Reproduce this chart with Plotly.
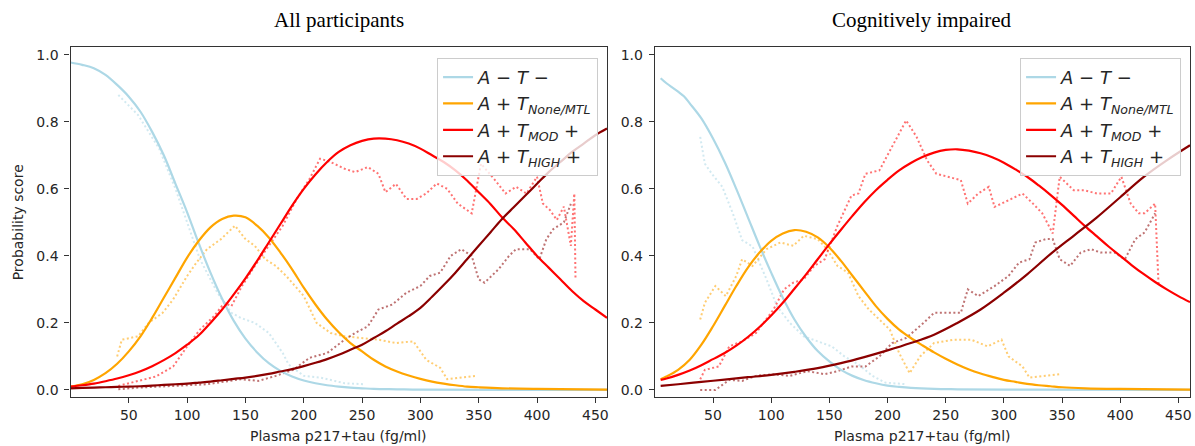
import plotly.graph_objects as go

# ---------------- data: fitted curves (left panel: All participants) ----------------
L_blue_x = [0, 10, 20, 30, 40, 50, 60, 70, 80, 90, 100, 110, 120, 130, 140, 150, 160, 170, 180, 190, 200, 210, 220, 230, 240, 250, 260, 280, 300, 460]
L_blue_y = [0.977, 0.97, 0.96, 0.94, 0.91, 0.875, 0.83, 0.77, 0.70, 0.615, 0.53, 0.437, 0.35, 0.272, 0.206, 0.153, 0.112, 0.08, 0.057, 0.04, 0.028, 0.02, 0.014, 0.01, 0.007, 0.005, 0.003, 0.002, 0.001, 0.0]
L_orange_x = [0, 10, 20, 30, 40, 50, 60, 70, 80, 90, 100, 110, 120, 130, 140, 150, 160, 170, 180, 190, 200, 210, 220, 230, 240, 250, 260, 270, 280, 290, 300, 310, 320, 330, 340, 350, 370, 400, 460]
L_orange_y = [0.01, 0.017, 0.03, 0.05, 0.078, 0.115, 0.16, 0.215, 0.275, 0.335, 0.395, 0.445, 0.485, 0.51, 0.52, 0.515, 0.49, 0.455, 0.41, 0.36, 0.305, 0.255, 0.21, 0.172, 0.14, 0.115, 0.09, 0.07, 0.055, 0.043, 0.033, 0.025, 0.019, 0.014, 0.01, 0.008, 0.005, 0.003, 0.001]
L_red_x = [0, 10, 20, 30, 40, 50, 60, 70, 80, 90, 100, 110, 120, 130, 140, 150, 160, 170, 180, 190, 200, 210, 220, 230, 240, 250, 260, 270, 280, 290, 300, 310, 320, 330, 340, 350, 360, 370, 380, 390, 400, 410, 420, 430, 440, 450, 460]
L_red_y = [0.01, 0.014, 0.019, 0.026, 0.034, 0.044, 0.056, 0.071, 0.089, 0.11, 0.135, 0.163, 0.2, 0.24, 0.285, 0.333, 0.385, 0.44, 0.495, 0.55, 0.6, 0.643, 0.68, 0.71, 0.73, 0.743, 0.75, 0.75, 0.745, 0.735, 0.72, 0.70, 0.68, 0.655, 0.625, 0.59, 0.555, 0.515, 0.48, 0.44, 0.40, 0.365, 0.33, 0.295, 0.265, 0.24, 0.215]
L_dred_x = [0, 10, 20, 30, 40, 50, 60, 70, 80, 90, 100, 110, 120, 130, 140, 150, 160, 170, 180, 190, 200, 210, 220, 230, 240, 250, 260, 270, 280, 290, 300, 310, 320, 330, 340, 350, 360, 370, 380, 390, 400, 410, 420, 430, 440, 450, 460]
L_dred_y = [0.005, 0.006, 0.007, 0.008, 0.009, 0.01, 0.011, 0.013, 0.015, 0.017, 0.019, 0.022, 0.025, 0.029, 0.033, 0.037, 0.042, 0.048, 0.055, 0.062, 0.071, 0.081, 0.092, 0.105, 0.12, 0.135, 0.155, 0.175, 0.198, 0.22, 0.245, 0.278, 0.313, 0.35, 0.39, 0.43, 0.47, 0.51, 0.545, 0.58, 0.615, 0.65, 0.68, 0.71, 0.735, 0.76, 0.78]

# ---------------- data: empirical dots (left panel) ----------------
L_blue_dx = [41, 58, 76, 90, 100, 111, 126, 138, 146, 158, 170, 176, 182, 187, 200, 214, 235, 252]
L_blue_dy = [0.88, 0.82, 0.72, 0.6, 0.5, 0.39, 0.29, 0.23, 0.215, 0.2, 0.17, 0.14, 0.11, 0.076, 0.042, 0.037, 0.02, 0.017]
L_orange_dx = [40, 44, 58, 67, 79, 88, 100, 108, 117, 129, 138, 141, 150, 158, 167, 176, 185, 200, 211, 223, 235, 250, 264, 279, 294, 305, 317, 323, 338, 347]
L_orange_dy = [0.1, 0.15, 0.16, 0.2, 0.23, 0.27, 0.34, 0.38, 0.42, 0.45, 0.48, 0.49, 0.45, 0.43, 0.39, 0.37, 0.34, 0.28, 0.2, 0.17, 0.16, 0.155, 0.15, 0.14, 0.145, 0.09, 0.066, 0.032, 0.037, 0.042]
L_red_dx = [41, 58, 73, 88, 100, 111, 123, 132, 138, 147, 158, 170, 182, 194, 205, 214, 223, 235, 244, 255, 264, 270, 279, 288, 297, 305, 314, 323, 332, 344, 352, 364, 373, 382, 391, 400, 405, 411, 417, 423, 429, 432, 433]
L_red_dy = [0.012, 0.027, 0.04, 0.07, 0.13, 0.18, 0.22, 0.26, 0.25, 0.31, 0.37, 0.43, 0.49, 0.57, 0.63, 0.69, 0.68, 0.66, 0.65, 0.665, 0.645, 0.59, 0.615, 0.57, 0.57, 0.586, 0.616, 0.6, 0.556, 0.527, 0.675, 0.626, 0.586, 0.606, 0.586, 0.636, 0.556, 0.537, 0.507, 0.547, 0.43, 0.586, 0.33]
L_dred_dx = [41, 58, 88, 117, 146, 161, 176, 191, 205, 220, 235, 244, 255, 264, 276, 288, 300, 308, 317, 326, 335, 344, 350, 355, 367, 376, 382, 394, 402, 408, 414, 423, 429]
L_dred_dy = [0.002, 0.007, 0.012, 0.017, 0.032, 0.027, 0.042, 0.06, 0.096, 0.11, 0.15, 0.17, 0.19, 0.24, 0.255, 0.29, 0.31, 0.34, 0.35, 0.40, 0.42, 0.40, 0.33, 0.32, 0.36, 0.40, 0.42, 0.42, 0.39, 0.45, 0.48, 0.50, 0.555]

# ---------------- data: fitted curves (right panel: Cognitively impaired) ----------------
R_blue_x = [5, 10, 20, 25, 30, 40, 50, 60, 70, 80, 90, 100, 110, 120, 130, 140, 150, 160, 170, 180, 190, 200, 210, 220, 240, 260, 300, 460]
R_blue_y = [0.93, 0.915, 0.89, 0.876, 0.855, 0.81, 0.75, 0.68, 0.60, 0.515, 0.43, 0.35, 0.275, 0.21, 0.158, 0.116, 0.085, 0.06, 0.042, 0.029, 0.02, 0.013, 0.009, 0.006, 0.003, 0.002, 0.001, 0.0]
R_orange_x = [5, 10, 20, 30, 40, 50, 60, 70, 80, 90, 100, 110, 120, 130, 140, 150, 160, 170, 180, 190, 200, 210, 220, 230, 240, 250, 260, 270, 280, 290, 300, 310, 320, 330, 340, 350, 370, 400, 460]
R_orange_y = [0.032, 0.04, 0.06, 0.09, 0.135, 0.19, 0.25, 0.31, 0.365, 0.41, 0.445, 0.467, 0.477, 0.472, 0.455, 0.425, 0.385, 0.34, 0.295, 0.25, 0.212, 0.18, 0.155, 0.133, 0.112, 0.093, 0.076, 0.061, 0.049, 0.039, 0.03, 0.024, 0.018, 0.014, 0.011, 0.008, 0.005, 0.003, 0.001]
R_red_x = [5, 10, 20, 30, 40, 50, 60, 70, 80, 90, 100, 110, 120, 130, 140, 150, 160, 170, 180, 190, 200, 210, 220, 230, 240, 250, 260, 270, 280, 290, 300, 310, 320, 330, 340, 350, 360, 370, 380, 390, 400, 410, 420, 430, 440, 450, 460]
R_red_y = [0.03, 0.034, 0.045, 0.058, 0.074, 0.092, 0.11, 0.132, 0.158, 0.188, 0.222, 0.26, 0.302, 0.345, 0.39, 0.435, 0.478, 0.52, 0.56, 0.596, 0.627, 0.655, 0.677, 0.695, 0.708, 0.716, 0.718, 0.714, 0.706, 0.694, 0.678, 0.658, 0.636, 0.61, 0.582, 0.552, 0.52, 0.488, 0.458, 0.428, 0.40, 0.372, 0.346, 0.322, 0.30, 0.28, 0.262]
R_dred_x = [5, 20, 40, 60, 80, 100, 120, 140, 160, 180, 200, 220, 240, 260, 280, 300, 320, 340, 360, 380, 400, 420, 440, 460]
R_dred_y = [0.012, 0.017, 0.024, 0.031, 0.038, 0.045, 0.054, 0.065, 0.08, 0.098, 0.118, 0.14, 0.165, 0.2, 0.24, 0.29, 0.345, 0.405, 0.46, 0.515, 0.575, 0.635, 0.685, 0.73]

# ---------------- data: empirical dots (right panel) ----------------
R_blue_dx = [39, 43, 49, 58, 67, 75, 84, 96, 105, 116, 128, 140, 152, 163, 175, 187, 198, 216]
R_blue_dy = [0.755, 0.675, 0.645, 0.606, 0.527, 0.447, 0.428, 0.33, 0.25, 0.2, 0.16, 0.145, 0.13, 0.1, 0.076, 0.042, 0.022, 0.017]
R_orange_dx = [39, 43, 52, 61, 70, 75, 84, 96, 108, 119, 128, 140, 148, 157, 166, 175, 184, 193, 202, 210, 219, 228, 240, 257, 272, 286, 298, 304, 316, 322, 336, 348]
R_orange_dy = [0.21, 0.26, 0.31, 0.28, 0.34, 0.39, 0.37, 0.42, 0.44, 0.43, 0.46, 0.45, 0.42, 0.37, 0.35, 0.28, 0.24, 0.21, 0.18, 0.11, 0.05, 0.1, 0.14, 0.15, 0.15, 0.13, 0.15, 0.1, 0.07, 0.037, 0.042, 0.047]
R_red_dx = [39, 43, 55, 64, 75, 87, 102, 111, 119, 128, 137, 146, 157, 169, 175, 181, 193, 204, 216, 225, 234, 242, 254, 263, 269, 278, 287, 292, 304, 316, 325, 333, 342, 348, 360, 369, 380, 392, 401, 409, 416, 421, 430, 433]
R_red_dy = [0.032, 0.06, 0.07, 0.13, 0.145, 0.17, 0.24, 0.3, 0.32, 0.33, 0.37, 0.39, 0.49, 0.58, 0.586, 0.645, 0.655, 0.725, 0.804, 0.755, 0.685, 0.645, 0.635, 0.626, 0.556, 0.586, 0.606, 0.546, 0.566, 0.586, 0.556, 0.527, 0.467, 0.636, 0.596, 0.596, 0.586, 0.586, 0.636, 0.556, 0.527, 0.527, 0.556, 0.31]
R_dred_dx = [39, 52, 64, 75, 87, 101, 116, 131, 146, 157, 169, 181, 193, 204, 216, 231, 240, 251, 263, 269, 278, 292, 304, 313, 322, 327, 336, 342, 348, 357, 366, 375, 383, 395, 404, 413, 421, 430]
R_dred_dy = [0.0, 0.0, 0.03, 0.027, 0.042, 0.047, 0.042, 0.056, 0.047, 0.056, 0.07, 0.07, 0.1, 0.14, 0.155, 0.2, 0.23, 0.23, 0.23, 0.3, 0.28, 0.31, 0.34, 0.38, 0.39, 0.44, 0.45, 0.45, 0.39, 0.37, 0.41, 0.42, 0.41, 0.41, 0.39, 0.45, 0.47, 0.527]

# ---------------- labels ----------------
series_names = [
    "<i>A</i> − <i>T</i> −",
    "<i>A</i> + <i>T</i><sub><i>None/MTL</i></sub>",
    "<i>A</i> + <i>T</i><sub><i>MOD</i></sub> +",
    "<i>A</i> + <i>T</i><sub><i>HIGH</i></sub> +",
]
colors = ["#add8e6", "#ffa500", "#ff0000", "#8b0000"]
panel_titles = ["All participants", "Cognitively impaired"]
x_title = "Plasma p217+tau (fg/ml)"
y_title = "Probability score"
x_ticks = [50, 100, 150, 200, 250, 300, 350, 400, 450]
y_ticks = [0.0, 0.2, 0.4, 0.6, 0.8, 1.0]

panels = [
    dict(curves=[(L_blue_x, L_blue_y), (L_orange_x, L_orange_y), (L_red_x, L_red_y), (L_dred_x, L_dred_y)],
         dots=[(L_blue_dx, L_blue_dy), (L_orange_dx, L_orange_dy), (L_red_dx, L_red_dy), (L_dred_dx, L_dred_dy)],
         xa="x", ya="y", legend="legend"),
    dict(curves=[(R_blue_x, R_blue_y), (R_orange_x, R_orange_y), (R_red_x, R_red_y), (R_dred_x, R_dred_y)],
         dots=[(R_blue_dx, R_blue_dy), (R_orange_dx, R_orange_dy), (R_red_dx, R_red_dy), (R_dred_dx, R_dred_dy)],
         xa="x2", ya="y2", legend="legend2"),
]

fig = go.Figure()
for p in panels:
    for (dx, dy), c in zip(p["dots"], colors):
        fig.add_trace(go.Scatter(x=dx, y=dy, mode="lines", xaxis=p["xa"], yaxis=p["ya"],
                                 line=dict(color=c, width=2, dash="2px,2.5px"), opacity=0.55,
                                 showlegend=False, hoverinfo="skip"))
    for (cx, cy), c, n in zip(p["curves"], colors, series_names):
        fig.add_trace(go.Scatter(x=cx, y=cy, mode="lines", xaxis=p["xa"], yaxis=p["ya"],
                                 line=dict(color=c, width=2.2, shape="spline", smoothing=1.0),
                                 name=n, legend=p["legend"], showlegend=True))

axis_common = dict(showgrid=False, zeroline=False, showline=True, mirror=True,
                   linecolor="#333333", linewidth=1.2, ticks="outside", ticklen=5,
                   tickcolor="#333333", tickwidth=1.2,
                   tickfont=dict(family="DejaVu Sans", size=14, color="#262626"))

y_dom = [0.1076, 0.8953]
legend_style = dict(xanchor="right", y=0.872, yanchor="top",
                    bgcolor="rgba(255,255,255,0.8)", bordercolor="#cccccc", borderwidth=1,
                    font=dict(family="DejaVu Sans", size=18, color="#262626"))
fig.update_layout(
    width=1195, height=446,
    margin=dict(l=0, r=0, t=0, b=0),
    paper_bgcolor="white", plot_bgcolor="white",
    font=dict(family="DejaVu Sans", color="#262626"),
    xaxis=dict(domain=[0.0591, 0.5088], range=[0, 460], tickvals=x_ticks, anchor="y", **axis_common),
    yaxis=dict(domain=y_dom, range=[-0.0217, 1.0217], tickvals=y_ticks, tickformat=".1f",
               anchor="x", ticklabelstandoff=3, **axis_common),
    xaxis2=dict(domain=[0.5489, 0.9975], range=[0, 460], tickvals=x_ticks, anchor="y2", **axis_common),
    yaxis2=dict(domain=y_dom, range=[-0.0217, 1.0217], tickvals=y_ticks, tickformat=".1f",
                anchor="x2", ticklabelstandoff=3, **axis_common),
    legend=dict(x=0.5013, **legend_style),
    legend2=dict(x=0.99, **legend_style),
)

title_x = [(0.0591 + 0.5088) / 2, (0.5489 + 0.9975) / 2]
for tx, t in zip(title_x, panel_titles):
    fig.add_annotation(text=t, x=tx, y=0.958, xref="paper", yref="paper", showarrow=False,
                       xanchor="center", yanchor="middle",
                       font=dict(family="Liberation Serif", size=21, color="black"))
    fig.add_annotation(text=x_title, x=tx, y=0.021, xref="paper", yref="paper", showarrow=False,
                       xanchor="center", yanchor="middle",
                       font=dict(family="DejaVu Sans", size=14, color="#262626"))
fig.add_annotation(text=y_title, x=18 / 1195, y=(y_dom[0] + y_dom[1]) / 2, xref="paper", yref="paper",
                   showarrow=False, textangle=-90, xanchor="center", yanchor="middle",
                   font=dict(family="DejaVu Sans", size=14, color="#262626"))

fig.write_html("out.html")
